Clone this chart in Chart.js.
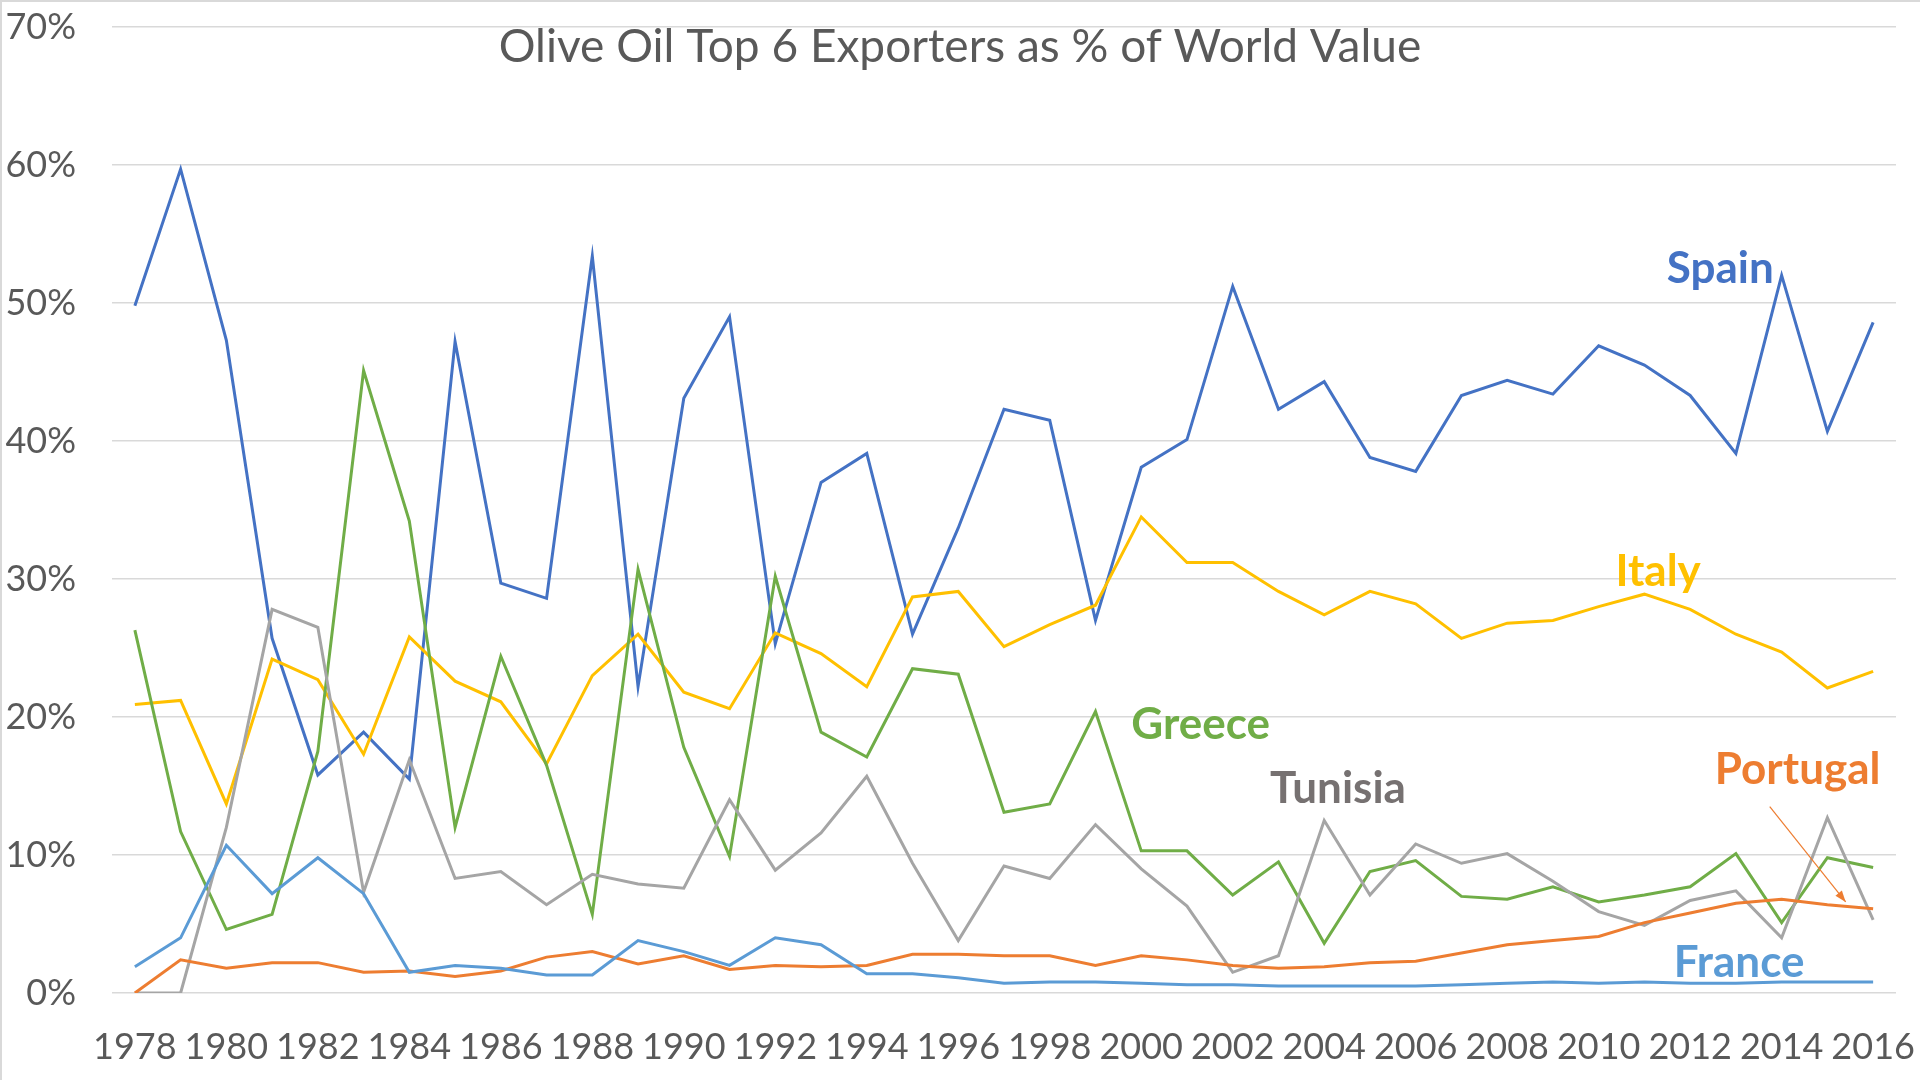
<!DOCTYPE html>
<html>
<head>
<meta charset="utf-8">
<script src="https://cdn.jsdelivr.net/npm/chart.js@4"></script>
<style>
  html, body { margin: 0; padding: 0; background: #fff; }
  #wrap { width: 1920px; height: 1080px; position: relative; box-sizing: border-box; border-top: 2px solid #d9d9d9; border-left: 2px solid #d9d9d9; }
  canvas { display: block; }
</style>
</head>
<body>
<div id="wrap"><canvas id="chart" width="1918" height="1078"></canvas></div>
<script>
const years = [1978, 1979, 1980, 1981, 1982, 1983, 1984, 1985, 1986, 1987, 1988, 1989, 1990,
  1991, 1992, 1993, 1994, 1995, 1996, 1997, 1998, 1999, 2000, 2001, 2002, 2003, 2004, 2005,
  2006, 2007, 2008, 2009, 2010, 2011, 2012, 2013, 2014, 2015, 2016];

const spain = [49.8, 59.7, 47.3, 25.7, 15.8, 18.9, 15.5, 47.2, 29.7, 28.6, 53.4, 22.2, 43.1,
  49.0, 25.3, 37.0, 39.1, 26.0, 33.7, 42.3, 41.5, 27.0, 38.1, 40.1, 51.2, 42.3, 44.3, 38.8,
  37.8, 43.3, 44.4, 43.4, 46.9, 45.5, 43.3, 39.1, 52.0, 40.7, 48.6];
const italy = [20.9, 21.2, 13.7, 24.2, 22.7, 17.3, 25.8, 22.6, 21.1, 16.6, 23.0, 26.0, 21.8,
  20.6, 26.1, 24.6, 22.2, 28.7, 29.1, 25.1, 26.7, 28.1, 34.5, 31.2, 31.2, 29.1, 27.4, 29.1,
  28.2, 25.7, 26.8, 27.0, 28.0, 28.9, 27.8, 26.0, 24.7, 22.1, 23.3];
const greece = [26.3, 11.7, 4.6, 5.7, 17.5, 45.1, 34.2, 12.0, 24.4, 16.5, 5.7, 30.7, 17.8,
  9.9, 30.2, 18.9, 17.1, 23.5, 23.1, 13.1, 13.7, 20.4, 10.3, 10.3, 7.1, 9.5, 3.6, 8.8,
  9.6, 7.0, 6.8, 7.7, 6.6, 7.1, 7.7, 10.1, 5.1, 9.8, 9.1];
const tunisia = [0, 0, 12.0, 27.8, 26.5, 7.3, 16.9, 8.3, 8.8, 6.4, 8.6, 7.9, 7.6,
  14.0, 8.9, 11.6, 15.7, 9.4, 3.8, 9.2, 8.3, 12.2, 9.0, 6.3, 1.5, 2.7, 12.5, 7.1,
  10.8, 9.4, 10.1, 8.1, 5.9, 4.9, 6.7, 7.4, 4.0, 12.7, 5.3];
const portugal = [0, 2.4, 1.8, 2.2, 2.2, 1.5, 1.6, 1.2, 1.6, 2.6, 3.0, 2.1, 2.7,
  1.7, 2.0, 1.9, 2.0, 2.8, 2.8, 2.7, 2.7, 2.0, 2.7, 2.4, 2.0, 1.8, 1.9, 2.2,
  2.3, 2.9, 3.5, 3.8, 4.1, 5.1, 5.8, 6.5, 6.8, 6.4, 6.1];
const france = [1.9, 4.0, 10.7, 7.2, 9.8, 7.2, 1.5, 2.0, 1.8, 1.3, 1.3, 3.8, 3.0,
  2.0, 4.0, 3.5, 1.4, 1.4, 1.1, 0.7, 0.8, 0.8, 0.7, 0.6, 0.6, 0.5, 0.5, 0.5,
  0.5, 0.6, 0.7, 0.8, 0.7, 0.8, 0.7, 0.7, 0.8, 0.8, 0.8];

const yTicks = [0, 10, 20, 30, 40, 50, 60, 70];

// series name labels, placed in data units (category index, percent)
const seriesLabels = [
  { text: 'Spain', at: 34.66, value: 52.5, color: '#4472C4' },
  { text: 'Italy', at: 33.3, value: 30.5, color: '#FFC000' },
  { text: 'Greece', at: 23.3, value: 19.4, color: '#70AD47' },
  { text: 'Tunisia', at: 26.3, value: 14.8, color: '#767171' },
  { text: 'Portugal', at: 36.35, value: 16.2, color: '#ED7D31' },
  { text: 'France', at: 35.07, value: 2.2, color: '#5B9BD5' }
];
const portugalArrow = { from: [35.74, 13.5], to: [37.4, 6.6] };

const FONT = 'Lato, "Open Sans", sans-serif';

const overlay = {
  id: 'overlay',
  afterDatasetsDraw(chart) {
    const { ctx, scales: { x, y } } = chart;
    ctx.save();
    // title sits inside the plot
    ctx.fillStyle = '#595959';
    ctx.font = '46px ' + FONT;
    ctx.textAlign = 'center';
    ctx.textBaseline = 'middle';
    ctx.fillText('Olive Oil Top 6 Exporters as % of World Value', 958, 45);

    ctx.font = 'bold 44px ' + FONT;
    seriesLabels.forEach(l => {
      ctx.fillStyle = l.color;
      ctx.fillText(l.text, x.getPixelForValue(l.at), y.getPixelForValue(l.value));
    });

    // arrow from Portugal label to its line
    const x1 = x.getPixelForValue(portugalArrow.from[0]), y1 = y.getPixelForValue(portugalArrow.from[1]);
    const x2 = x.getPixelForValue(portugalArrow.to[0]), y2 = y.getPixelForValue(portugalArrow.to[1]);
    ctx.strokeStyle = '#ED7D31';
    ctx.fillStyle = '#ED7D31';
    ctx.lineWidth = 1.2;
    ctx.beginPath();
    ctx.moveTo(x1, y1);
    ctx.lineTo(x2, y2);
    ctx.stroke();
    const a = Math.atan2(y2 - y1, x2 - x1);
    ctx.beginPath();
    ctx.moveTo(x2, y2);
    ctx.lineTo(x2 - 12 * Math.cos(a - 0.35), y2 - 12 * Math.sin(a - 0.35));
    ctx.lineTo(x2 - 12 * Math.cos(a + 0.35), y2 - 12 * Math.sin(a + 0.35));
    ctx.closePath();
    ctx.fill();
    ctx.restore();
  }
};

const line = (label, data, color) => ({
  label, data,
  borderColor: color,
  backgroundColor: color,
  borderWidth: 3,
  pointRadius: 0,
  tension: 0,
  fill: false
});

new Chart(document.getElementById('chart'), {
  type: 'line',
  data: {
    labels: years,
    datasets: [
      line('France', france, '#5B9BD5'),
      line('Portugal', portugal, '#ED7D31'),
      line('Tunisia', tunisia, '#A5A5A5'),
      line('Greece', greece, '#70AD47'),
      line('Italy', italy, '#FFC000'),
      line('Spain', spain, '#4472C4')
    ]
  },
  options: {
    responsive: false,
    animation: false,
    devicePixelRatio: 1,
    layout: { padding: { top: 25, right: 24, left: 0, bottom: 0 } },
    plugins: {
      legend: { display: false },
      title: { display: false },
      tooltip: { enabled: false }
    },
    scales: {
      x: {
        offset: true,
        grid: { display: false, drawTicks: false },
        border: { display: false },
        ticks: {
          autoSkip: false,
          maxRotation: 0,
          padding: 33,
          color: '#595959',
          font: { family: FONT, size: 36 },
          callback: (v, i) => (i % 2 === 0 ? years[i] : '')
        },
        afterFit: s => { s.height = 87; s.paddingLeft = 0; s.paddingRight = 0; }
      },
      y: {
        min: 0,
        max: 70,
        afterBuildTicks: s => { s.ticks = yTicks.map(v => ({ value: v })); },
        grid: { color: '#d9d9d9', lineWidth: 1.5, drawTicks: false },
        border: { display: false },
        ticks: {
          padding: 36,
          color: '#595959',
          font: { family: FONT, size: 36 },
          callback: v => v + '%'
        },
        afterFit: s => { s.width = 110; s.paddingTop = 0; s.paddingBottom = 0; }
      }
    }
  },
  plugins: [overlay]
});
</script>
</body>
</html>
